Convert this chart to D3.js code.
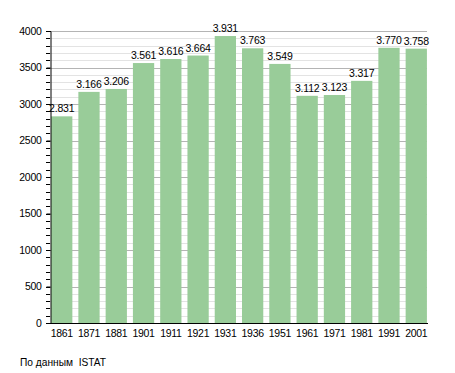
<!DOCTYPE html>
<html><head><meta charset="utf-8">
<script src="https://cdn.jsdelivr.net/npm/d3@7"></script>
<style>body{margin:0;background:#fff}svg{display:block}text{font-family:"Liberation Sans",Arial,sans-serif}</style>
</head><body>
<svg id="c" width="455" height="373"></svg>
<script>
const years = ["1861","1871","1881","1901","1911","1921","1931","1936","1951","1961","1971","1981","1991","2001"];
const population = [2831,3166,3206,3561,3616,3664,3931,3763,3549,3112,3123,3317,3770,3758];
const yTicks = [0,500,1000,1500,2000,2500,3000,3500,4000];
const minorTicks = d3.range(0, 4001, 100);
const sourceText = "По данным  ISTAT";

const svg = d3.select("#c");
const x = d3.scaleBand().domain(years).range([50, 428]).paddingInner(0.22).paddingOuter(0.04);
const y = d3.scaleLinear().domain([0, 4000]).range([323, 31]);

// minor gridlines
svg.append("g").selectAll("line").data(minorTicks.filter(d => d % 500 !== 0)).join("line")
  .attr("x1", 50).attr("x2", 427).attr("y1", d => Math.round(y(d)) + 0.5).attr("y2", d => Math.round(y(d)) + 0.5)
  .attr("stroke", "#e3e3e3").attr("stroke-width", 1);
// major gridlines
svg.append("g").selectAll("line").data(yTicks.filter(d => d > 0)).join("line")
  .attr("x1", 50).attr("x2", 427).attr("y1", d => Math.round(y(d)) + 0.5).attr("y2", d => Math.round(y(d)) + 0.5)
  .attr("stroke", "#b4b4b4").attr("stroke-width", 1);

// bars
svg.append("g").selectAll("rect").data(population).join("rect")
  .attr("x", (d, i) => x(years[i])).attr("width", x.bandwidth())
  .attr("y", d => y(d)).attr("height", d => y(0) - y(d))
  .attr("fill", "#99cc99");

// value labels
const fmt = v => d3.format(",")(v).replace(",", ".");
svg.append("g").selectAll("text").data(population).join("text")
  .attr("x", (d, i) => x(years[i]) + x.bandwidth() / 2).attr("y", d => y(d) - 4)
  .attr("text-anchor", "middle").attr("font-size", 10.5).attr("letter-spacing", -0.2).attr("fill", "#000")
  .text(d => fmt(d));

// y axis
const yAxis = d3.axisLeft(y).tickValues(yTicks).tickSize(4).tickPadding(5).tickFormat(d3.format("d"));
const gy = svg.append("g").attr("transform", "translate(50.5,0)").call(yAxis);
gy.select(".domain").attr("stroke", "#000");
gy.selectAll("text").attr("font-size", 10.5).attr("letter-spacing", -0.3).attr("font-family", "Liberation Sans, Arial, sans-serif").attr("fill", "#000");
gy.selectAll("line").attr("stroke", "#000");
// minor ticks
svg.append("g").selectAll("line").data(minorTicks).join("line")
  .attr("x1", 46).attr("x2", 50).attr("y1", d => Math.round(y(d)) + 0.5).attr("y2", d => Math.round(y(d)) + 0.5)
  .attr("stroke", "#000");

// x axis
const xAxis = d3.axisBottom(x).tickSize(0).tickPadding(6);
const gx = svg.append("g").attr("transform", "translate(0,323.5)").call(xAxis);
gx.select(".domain").attr("d", "M50,0H428").attr("stroke", "#000");
gx.selectAll("text").attr("font-size", 10.5).attr("letter-spacing", -0.3).attr("font-family", "Liberation Sans, Arial, sans-serif").attr("fill", "#000");

svg.append("text").attr("x", 20).attr("y", 366).attr("font-size", 10.2).attr("fill", "#000")
  .attr("xml:space", "preserve").style("white-space", "pre").text(sourceText);
</script>
</body></html>
